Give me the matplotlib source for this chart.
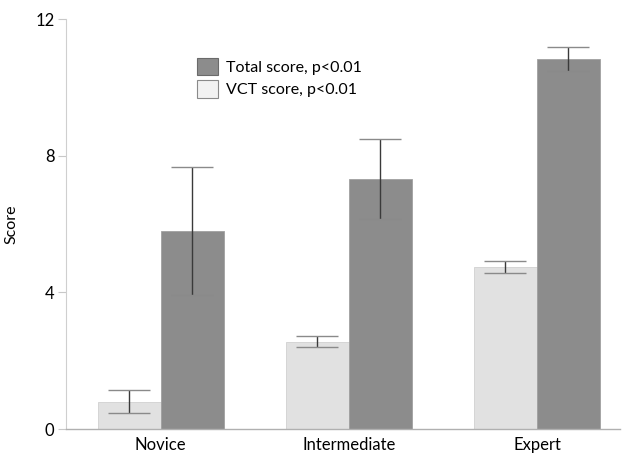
import numpy as np
import matplotlib.pyplot as plt
from matplotlib.patches import Patch

plt.rcParams['font.family'] = ['Lato', 'DejaVu Sans']

# Data
groups = ['Novice', 'Intermediate', 'Expert']
vct_mean = [0.80, 2.56, 4.75]
vct_err = [0.34, 0.16, 0.17]
total_mean = [5.80, 7.31, 10.82]
total_err = [1.88, 1.17, 0.35]

light = '#e1e1e1'
dark = '#8c8c8c'

fig = plt.figure(figsize=(6.26, 4.55), dpi=100)
ax = fig.add_axes([0.105, 0.057, 0.885, 0.901])

x = np.arange(len(groups))
w = 0.335

ax.bar(x - w / 2, vct_mean, w, color=light, edgecolor='#d0d0d0', linewidth=0.6)
ax.bar(x + w / 2, total_mean, w, color=dark, edgecolor='#a0a0a0', linewidth=0.6)

for xs, m, e in [(x - w / 2, vct_mean, vct_err), (x + w / 2, total_mean, total_err)]:
    _, caps, bars = ax.errorbar(xs, m, yerr=e, fmt='none', ecolor='#3a3a3a',
                                elinewidth=1.0, capsize=15, capthick=1.0)
    for c in caps:
        c.set_markeredgecolor('#8a8a8a')

ax.set_ylim(0, 12)
ax.set_xlim(-0.505, 2.44)
ax.set_yticks([0, 4, 8, 12])
ax.set_xticks(x)
ax.set_xticklabels(groups, fontsize=12)
ax.tick_params(axis='y', labelsize=12, length=6, color='#c8c8c8', width=0.8, pad=2)
ax.tick_params(axis='x', length=0, pad=6)
ax.set_ylabel('Score', fontsize=11.5, labelpad=12)

for s in ['top', 'right']:
    ax.spines[s].set_visible(False)
ax.spines['left'].set_color('#cfcfcf')
ax.spines['bottom'].set_color('#b0b0b0')
ax.spines['left'].set_linewidth(0.8)
ax.spines['bottom'].set_linewidth(1.0)

handles = [Patch(facecolor=dark, edgecolor='#6a6a6a', linewidth=0.8),
           Patch(facecolor='#f2f2f2', edgecolor='#8a8a8a', linewidth=0.8)]
ax.legend(handles, ['Total score, p<0.01', 'VCT score, p<0.01'], frameon=False,
          fontsize=11.5, loc='upper left', bbox_to_anchor=(0.211, 0.94),
          handlelength=1.3, handleheight=1.3, handletextpad=0.5, labelspacing=0.3)

fig.savefig('out.png', dpi=100)
